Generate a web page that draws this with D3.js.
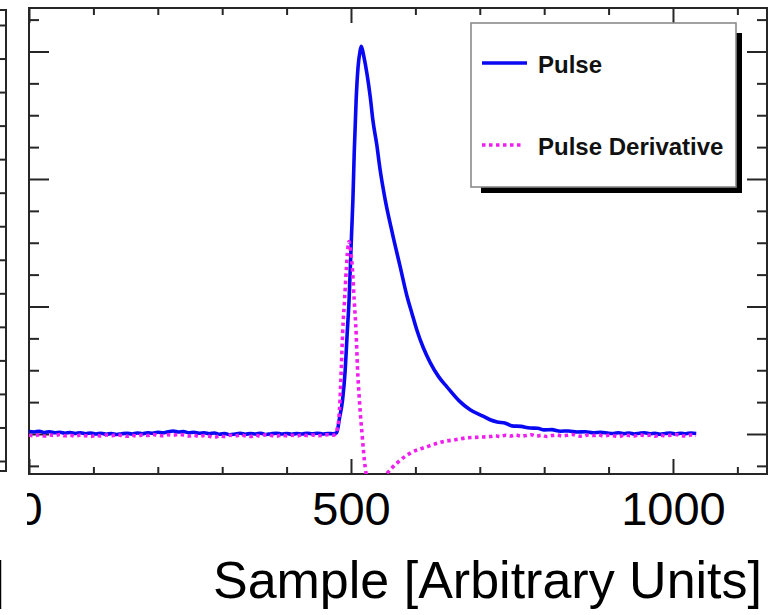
<!DOCTYPE html>
<html>
<head>
<meta charset="utf-8">
<script src="https://cdn.jsdelivr.net/npm/d3@7"></script>
<style>
  html, body { margin: 0; padding: 0; background: #fff; }
  svg { display: block; }
</style>
</head>
<body>
<svg id="chart" width="777" height="615"></svg>
<script>
// ---- data -------------------------------------------------------------
// regular sampling step used for the flat stretches of both traces
const STEP = 8;

// Pulse: flat lead-in, samples 0..472
const pulseLead = [
  0.020, 0.016, 0.022, 0.012, 0.018, 0.010, 0.014, 0.006, 0.012, 0.004,
  0.010, 0.002, 0.008, 0.000, 0.006, -0.002, 0.004, -0.004, 0.002, 0.006,
  0.000, 0.008, 0.002, 0.010, 0.006, 0.014, 0.010, 0.018, 0.024, 0.016,
  0.020, 0.010, 0.014, 0.006, 0.010, 0.002, 0.008, -0.002, 0.004, -0.006,
  0.000, 0.006, -0.002, 0.004, 0.000, 0.006, -0.004, 0.002, 0.006, 0.000,
  0.004, -0.002, 0.004, 0.000, 0.006, 0.002, 0.006, 0.000, 0.004, 0.002
];
// Pulse: rising edge, peak and decay
const pulseShapeSamples = [
  478, 482, 487, 491, 494, 497, 499, 501, 503, 505, 508, 511, 514, 516,
  520, 525, 530, 534, 540, 545, 553, 564, 576, 587, 595, 602, 612, 623,
  636, 649, 668, 685, 705, 716, 727, 740, 750, 764, 778, 790, 800, 812,
  825, 838, 851, 864, 876, 888, 900
];
const pulseShapeValues = [
  0.010, 0.120, 0.270, 0.500, 0.780, 1.050, 1.310, 1.580, 1.840, 2.200, 2.620, 2.880, 3.000, 3.040,
  2.960, 2.820, 2.640, 2.460, 2.270, 2.080, 1.840, 1.580, 1.320, 1.080, 0.940, 0.820, 0.680, 0.560,
  0.450, 0.370, 0.260, 0.190, 0.140, 0.112, 0.095, 0.085, 0.064, 0.060, 0.047, 0.045, 0.032, 0.034,
  0.022, 0.024, 0.016, 0.018, 0.010, 0.014, 0.006
];
// Pulse: flat tail, from sample 908 on
const pulseTailStart = 908;
const pulseTail = [
  0.004, 0.010, 0.002, 0.008, 0.000, 0.006, 0.010, 0.002, 0.006, -0.002,
  0.004, 0.008, 0.000, 0.006, 0.002, 0.008, 0.004
];

// Derivative: flat lead-in, samples 0..472
const derivLead = [
  -0.010, -0.014, -0.006, -0.016, -0.008, -0.012, -0.004, -0.014, -0.010, -0.018,
  -0.008, -0.014, -0.020, -0.010, -0.016, -0.008, -0.014, -0.006, -0.012, -0.018,
  -0.010, -0.016, -0.008, -0.012, -0.004, -0.010, -0.014, -0.006, -0.010, -0.002,
  -0.008, -0.016, -0.010, -0.020, -0.012, -0.018, -0.026, -0.014, -0.020, -0.010,
  -0.016, -0.008, -0.014, -0.020, -0.010, -0.016, -0.006, -0.012, -0.018, -0.008,
  -0.014, -0.010, -0.016, -0.006, -0.012, -0.008, -0.014, -0.010, -0.006, -0.010
];
// Derivative: positive lobe, negative undershoot and recovery
const derivShapeSamples = [
  476, 479, 481, 483, 485, 487, 490, 493, 495, 497, 499, 502, 505, 508,
  510, 513, 517, 522, 527, 533, 540, 548, 556, 571, 592, 618, 643, 662,
  680, 698, 716
];
const derivShapeValues = [
  0.000, 0.050, 0.110, 0.270, 0.520, 0.790, 1.050, 1.310, 1.450, 1.510, 1.450, 1.310, 1.050, 0.790,
  0.530, 0.270, 0.010, -0.260, -0.380, -0.430, -0.420, -0.370, -0.310, -0.230, -0.150, -0.100, -0.060, -0.045,
  -0.030, -0.025, -0.020
];
// Derivative: flat tail, from sample 724 on
const derivTailStart = 724;
const derivTail = [
  -0.014, -0.020, -0.010, -0.016, -0.008, -0.018, -0.012, -0.006, -0.016, -0.010,
  -0.020, -0.012, -0.008, -0.016, -0.010, -0.004, -0.014, -0.018, -0.008, -0.012,
  -0.006, -0.016, -0.010, -0.014, -0.020, -0.008, -0.012, -0.016, -0.006, -0.012,
  -0.010, -0.018, -0.008, -0.014, -0.010, -0.004, -0.012, -0.016, -0.008, -0.012
];

// axis ticks and labels
const xMajorTicks = [0, 500, 1000];
const xMinorTicks = [100, 200, 300, 400, 600, 700, 800, 900, 1100];
const xTickLabels = ["0", "500", "1000"];
const yMajorTicks = [0, 1, 2, 3];
const yMinorTicks = [-0.25, 0.25, 0.5, 0.75, 1.25, 1.5, 1.75, 2.25, 2.5, 2.75, 3.25];
const xTitle = "Sample [Arbitrary Units]";
const seriesNames = ["Pulse", "Pulse Derivative"];
const seriesColors = ["#0808f2", "#f01ef0"];
// neighbouring panel's right-hand ticks (its own index scale)
const sidePanelTicks = [0, 1, 2, 3, 4, 5, 6, 7, 8, 9, 10, 11, 12, 13];

// ---- assemble the traces ----------------------------------------------
function trace(lead, shapeS, shapeV, tailStart, tail) {
  const pts = lead.map((v, i) => ({ s: i * STEP, v }));
  shapeS.forEach((s, i) => pts.push({ s, v: shapeV[i] }));
  tail.forEach((v, i) => pts.push({ s: tailStart + i * STEP, v }));
  return pts;
}
const pulse = trace(pulseLead, pulseShapeSamples, pulseShapeValues, pulseTailStart, pulseTail);
const deriv = trace(derivLead, derivShapeSamples, derivShapeValues, derivTailStart, derivTail);

// ---- layout -----------------------------------------------------------
const FONT = "'Liberation Sans', Arial, Helvetica, sans-serif";
const frame = { left: 29, right: 767, top: 8, bottom: 474 };
const svg = d3.select("#chart");

const x = d3.scaleLinear().domain([0, 1146]).range([frame.left, frame.right]);
const y = d3.scaleLinear().domain([-0.3137, 3.341]).range([frame.bottom, frame.top]);

const defs = svg.append("defs");
defs.append("clipPath").attr("id", "plotClip")
  .append("rect")
  .attr("x", frame.left).attr("y", frame.top)
  .attr("width", frame.right - frame.left).attr("height", frame.bottom - frame.top);
defs.append("clipPath").attr("id", "labelClip")
  .append("rect").attr("x", 27).attr("y", 0).attr("width", 777).attr("height", 615);

const ink = "#262626";

// ---- neighbouring panel edge ------------------------------------------
const sideY = d3.scaleLinear().domain([0, 13]).range([25, 461]);
const side = svg.append("g");
side.append("g")
  .attr("transform", "translate(6,0)")
  .call(d3.axisLeft(sideY).tickValues(sidePanelTicks).tickSize(6).tickFormat(""))
  .call(g => g.select(".domain").remove())
  .call(g => g.selectAll("line").attr("stroke", ink).attr("stroke-width", 2));
side.append("path")
  .attr("d", "M0,10 H6 V471 H0")
  .attr("fill", "none").attr("stroke", ink).attr("stroke-width", 2);
side.append("text")
  .attr("x", 5).attr("y", 598)
  .attr("text-anchor", "end")
  .style("font-family", FONT).style("font-size", "52px").attr("fill", "#000")
  .text(xTitle);

// ---- axes (ticks drawn inward) ----------------------------------------
function styleAxis(g) {
  g.select(".domain").remove();
  g.selectAll("line").attr("stroke", ink).attr("stroke-width", 2);
}
const axes = svg.append("g");
// bottom
axes.append("g").attr("transform", `translate(0,${frame.bottom})`)
  .call(d3.axisBottom(x).tickValues(xMinorTicks).tickSize(-7).tickFormat(""))
  .call(styleAxis);
const bottomLabels = axes.append("g").attr("clip-path", "url(#labelClip)");
bottomLabels.append("g").attr("transform", `translate(0,${frame.bottom})`)
  .call(d3.axisBottom(x).tickValues(xMajorTicks).tickSize(-15).tickPadding(18)
    .tickFormat((d, i) => xTickLabels[i]))
  .call(styleAxis)
  .call(g => g.selectAll("text")
    .style("font-family", FONT).style("font-size", "47px").attr("fill", "#000"));
// top
axes.append("g").attr("transform", `translate(0,${frame.top})`)
  .call(d3.axisTop(x).tickValues(xMinorTicks).tickSize(-7).tickFormat(""))
  .call(styleAxis);
axes.append("g").attr("transform", `translate(0,${frame.top})`)
  .call(d3.axisTop(x).tickValues(xMajorTicks).tickSize(-15).tickFormat(""))
  .call(styleAxis);
// left
axes.append("g").attr("transform", `translate(${frame.left},0)`)
  .call(d3.axisLeft(y).tickValues(yMinorTicks).tickSize(-10).tickFormat(""))
  .call(styleAxis);
axes.append("g").attr("transform", `translate(${frame.left},0)`)
  .call(d3.axisLeft(y).tickValues(yMajorTicks).tickSize(-20).tickFormat(""))
  .call(styleAxis);
// right
axes.append("g").attr("transform", `translate(${frame.right},0)`)
  .call(d3.axisRight(y).tickValues(yMinorTicks).tickSize(-10).tickFormat(""))
  .call(styleAxis);
axes.append("g").attr("transform", `translate(${frame.right},0)`)
  .call(d3.axisRight(y).tickValues(yMajorTicks).tickSize(-20).tickFormat(""))
  .call(styleAxis);

// frame
axes.append("rect")
  .attr("x", frame.left).attr("y", frame.top)
  .attr("width", frame.right - frame.left).attr("height", frame.bottom - frame.top)
  .attr("fill", "none").attr("stroke", ink).attr("stroke-width", 2);

// axis title
svg.append("text")
  .attr("x", 762).attr("y", 598)
  .attr("text-anchor", "end")
  .style("font-family", FONT).style("font-size", "52px").attr("fill", "#000")
  .text(xTitle);

// ---- traces -----------------------------------------------------------
const line = d3.line().curve(d3.curveMonotoneX).x(d => x(d.s)).y(d => y(d.v));
const plot = svg.append("g").attr("clip-path", "url(#plotClip)");
plot.append("path").datum(pulse)
  .attr("d", line)
  .attr("fill", "none").attr("stroke", seriesColors[0])
  .attr("stroke-width", 3.6).attr("stroke-linejoin", "round");
plot.append("path").datum(deriv)
  .attr("d", line)
  .attr("fill", "none").attr("stroke", seriesColors[1])
  .attr("stroke-width", 3.6).attr("stroke-dasharray", "3.5,3.5");

// ---- legend -----------------------------------------------------------
const legend = svg.append("g");
legend.append("rect")
  .attr("x", 481).attr("y", 33).attr("width", 261).attr("height", 160)
  .attr("fill", "#000");
legend.append("rect")
  .attr("x", 471).attr("y", 23).attr("width", 265).attr("height", 164)
  .attr("fill", "#fff").attr("stroke", "#8a8a8a").attr("stroke-width", 1.6);
const rows = [
  { name: seriesNames[0], color: seriesColors[0], dash: null, ly: 63, ty: 73, len: 45 },
  { name: seriesNames[1], color: seriesColors[1], dash: "3.5,3.5", ly: 145, ty: 155, len: 42 }
];
rows.forEach(r => {
  legend.append("line")
    .attr("x1", 482).attr("x2", 482 + r.len)
    .attr("y1", r.ly).attr("y2", r.ly)
    .attr("stroke", r.color).attr("stroke-width", 3.4)
    .attr("stroke-dasharray", r.dash);
  legend.append("text")
    .attr("x", 538).attr("y", r.ty)
    .style("font-family", FONT).style("font-size", "24px").style("font-weight", "bold")
    .attr("fill", "#111")
    .text(r.name);
});
</script>
</body>
</html>
